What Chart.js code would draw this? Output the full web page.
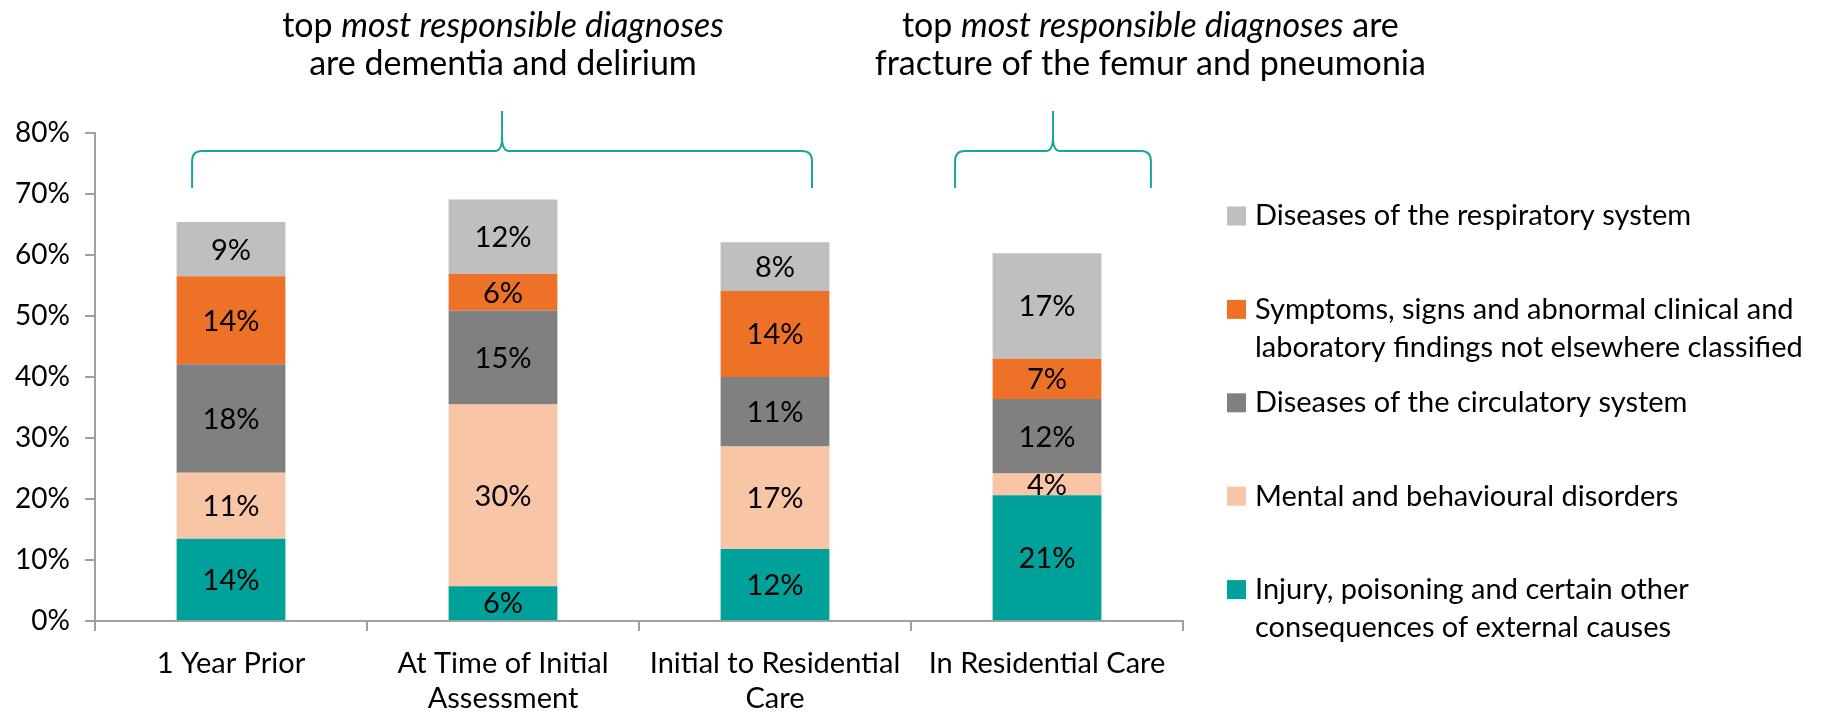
<!DOCTYPE html>
<html>
<head>
<meta charset="utf-8">
<script src="https://cdn.jsdelivr.net/npm/chart.js@4.4.1/dist/chart.umd.min.js"></script>
<style>
  html, body { margin: 0; padding: 0; background: #fff; }
  #wrap { width: 1833px; height: 715px; }
</style>
</head>
<body>
<div id="wrap"><canvas id="myChart"></canvas></div>
<script>
let periods = [['1 Year Prior'], ['At Time of Initial', 'Assessment'], ['Initial to Residential', 'Care'], ['In Residential Care']];

// share of most responsible diagnoses (%), bottom to top of each stack
let injury = [13.5, 5.7, 11.8, 20.6];
let mental = [10.8, 29.8, 16.8, 3.6];
let circulatory = [17.8, 15.4, 11.4, 12.2];
let symptoms = [14.4, 6.0, 14.1, 6.6];
let respiratory = [8.9, 12.2, 8.0, 17.3];

let seriesNames = [
    ['Injury, poisoning and certain other', 'consequences of external causes'],
    ['Mental and behavioural disorders'],
    ['Diseases of the circulatory system'],
    ['Symptoms, signs and abnormal clinical and', 'laboratory findings not elsewhere classified'],
    ['Diseases of the respiratory system']
];
let seriesColors = ['#00A19A', '#F8C5A6', '#808080', '#EE7128', '#BFBFBF'];

// notes above the bars: [text, italic] pieces per line, centred at a category position
let notes = [
    { at: 1.0, lines: [[['top ', false], ['most responsible diagnoses', true]], [['are dementia and delirium', false]]] },
    { at: 3.38, lines: [[['top ', false], ['most responsible diagnoses', true], [' are', false]], [['fracture of the femur and pneumonia', false]]] }
];
// brace spans in category units
let braces = [[-0.143, 2.136], [2.662, 3.382]];

Chart.defaults.font.family = 'Lato, sans-serif';
Chart.defaults.font.size = 29;
Chart.defaults.color = '#000';

const FONT = '29px Lato, sans-serif';
const NOTE = '34px Lato, sans-serif';
const NOTE_I = 'italic 34px Lato, sans-serif';

function drawBrace(ctx, x1, x2, yEnd, yBar, yTip) {
    const xm = (x1 + x2) / 2, r = 10;
    ctx.beginPath();
    ctx.moveTo(x1, yEnd);
    ctx.lineTo(x1, yBar + r);
    ctx.quadraticCurveTo(x1, yBar, x1 + r, yBar);
    ctx.lineTo(xm - 7, yBar);
    ctx.quadraticCurveTo(xm, yBar, xm, yBar - 14);
    ctx.lineTo(xm, yTip);
    ctx.moveTo(xm, yBar - 14);
    ctx.quadraticCurveTo(xm, yBar, xm + 7, yBar);
    ctx.lineTo(x2 - r, yBar);
    ctx.quadraticCurveTo(x2, yBar, x2, yBar + r);
    ctx.lineTo(x2, yEnd);
    ctx.stroke();
}

const overlay = {
    id: 'overlay',
    afterDatasetsDraw(chart) {
        const ctx = chart.ctx;
        ctx.save();
        ctx.font = FONT;
        ctx.fillStyle = '#000';
        ctx.textAlign = 'center';
        ctx.textBaseline = 'middle';
        chart.data.datasets.forEach((ds, i) => {
            chart.getDatasetMeta(i).data.forEach((bar, j) => {
                const p = bar.getProps(['x', 'y', 'base'], true);
                ctx.fillText(Math.round(ds.data[j]) + '%', p.x, (p.y + p.base) / 2 + 1);
            });
        });
        ctx.restore();
    },
    afterDraw(chart) {
        const ctx = chart.ctx;
        const xs = chart.scales.x;
        const area = chart.chartArea;
        ctx.save();

        // braces
        ctx.strokeStyle = '#1AA59C';
        ctx.lineWidth = 2;
        braces.forEach(b => {
            drawBrace(ctx, xs.getPixelForValue(b[0]), xs.getPixelForValue(b[1]), area.top + 55, area.top + 18, area.top - 22);
        });

        // notes
        ctx.fillStyle = '#000';
        ctx.textBaseline = 'middle';
        ctx.textAlign = 'left';
        notes.forEach(n => {
            const cx = xs.getPixelForValue(n.at);
            n.lines.forEach((line, k) => {
                let w = 0;
                line.forEach(part => { ctx.font = part[1] ? NOTE_I : NOTE; w += ctx.measureText(part[0]).width; });
                let x = cx - w / 2;
                const y = area.top - 107 + k * 38;
                line.forEach(part => {
                    ctx.font = part[1] ? NOTE_I : NOTE;
                    ctx.fillText(part[0], x, y);
                    x += ctx.measureText(part[0]).width;
                });
            });
        });

        // legend, top item = last series
        ctx.font = FONT;
        const lx = area.right + 44;
        for (let i = seriesNames.length - 1, k = 0; i >= 0; i--, k++) {
            const y = area.top + 83 + k * 93.4;
            ctx.fillStyle = seriesColors[i];
            ctx.fillRect(lx, y - 9.5, 19, 19);
            ctx.fillStyle = '#000';
            seriesNames[i].forEach((t, m) => ctx.fillText(t, lx + 28, y + m * 38));
        }
        ctx.restore();
    }
};

const chart = document.getElementById('myChart').getContext('2d');

const myChart = new Chart(chart, {
    type: 'bar',
    data: {
        labels: periods,
        datasets: [injury, mental, circulatory, symptoms, respiratory].map((d, i) => ({
            label: seriesNames[i].join(' '),
            data: d,
            backgroundColor: seriesColors[i],
            categoryPercentage: 1,
            barPercentage: 0.4
        }))
    },
    options: {
        responsive: true,
        maintainAspectRatio: false,
        animation: false,
        layout: { padding: { top: 133, right: 650, left: 0, bottom: 0 } },
        plugins: {
            legend: { display: false },
            tooltip: { enabled: false }
        },
        scales: {
            x: {
                stacked: true,
                offset: true,
                grid: { offset: true, drawOnChartArea: false, tickLength: 10, color: '#A0A0A0', lineWidth: 2 },
                border: { color: '#A0A0A0', width: 2 },
                ticks: { padding: 15, maxRotation: 0, autoSkip: false, font: { size: 29, lineHeight: 1.2 } },
                afterFit(scale) { scale.height = 94; }
            },
            y: {
                stacked: true,
                min: 0,
                max: 80,
                grid: { drawOnChartArea: false, tickLength: 10, color: '#A0A0A0', lineWidth: 2 },
                border: { color: '#A0A0A0', width: 2 },
                ticks: { stepSize: 10, padding: 15, font: { size: 28 }, callback: v => v + '%' },
                afterFit(scale) { scale.width = 95; }
            }
        }
    },
    plugins: [overlay]
});
</script>
</body>
</html>
